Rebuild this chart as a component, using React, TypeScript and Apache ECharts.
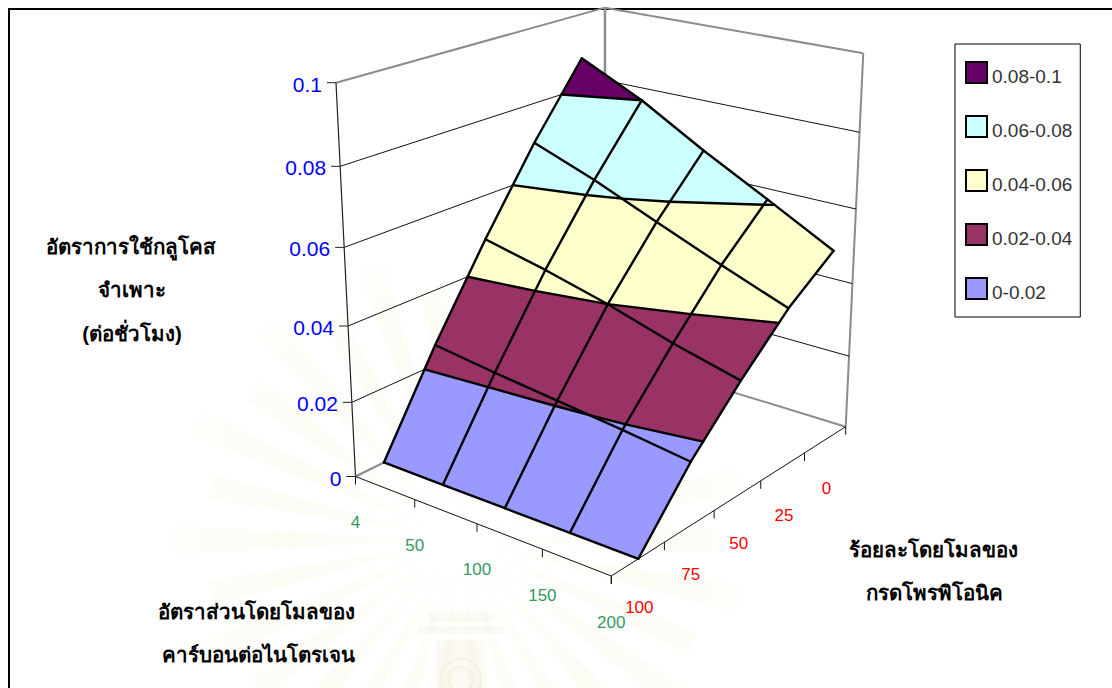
import React, { useEffect, useRef } from "react";
import * as echarts from "echarts";

// Specific glucose uptake rate by C/N mole ratio (columns) and propionic acid % (rows)
const carbonNitrogenRatio = ["4", "50", "100", "150", "200"];
const propionicPercent = ["100", "75", "50", "25", "0"];
const ratePropionic100 = [0, 0, 0, 0, 0];
const ratePropionic75 = [0.0253, 0.023, 0.021, 0.019, 0.0167];
const ratePropionic50 = [0.0482, 0.0444, 0.04, 0.0347, 0.0303];
const ratePropionic25 = [0.0694, 0.0632, 0.0561, 0.0491, 0.0425];
const ratePropionic0 = [0.0881, 0.08, 0.0701, 0.061, 0.0517];
const rateRows = [ratePropionic100, ratePropionic75, ratePropionic50, ratePropionic25, ratePropionic0];

const rateTicks = [0, 0.02, 0.04, 0.06, 0.08, 0.1];
const rateTickLabels = ["0", "0.02", "0.04", "0.06", "0.08", "0.1"];
const bandNames = ["0-0.02", "0.02-0.04", "0.04-0.06", "0.06-0.08", "0.08-0.1"];
const bandColors = ["#9999FF", "#993366", "#FFFFCC", "#CCFFFF", "#660066"];
const contourLevels = [0.02, 0.04, 0.06, 0.08];
const RATE_MAX = 0.1;

// Box corners on the page for the floor of the 3D plot, plus the vertical vanishing point
type Pt = number[];
const floorLeft: Pt = [355.5, 476.5];
const floorFront: Pt = [611.3, 576];
const floorRight: Pt = [845.7, 426.7];
const floorBack: Pt = [605, 353];
const verticalVanish: Pt = [605.5, 5527];
const wallTopLeftY = 82.7;

function squareToQuad(p00: Pt, p10: Pt, p11: Pt, p01: Pt) {
  const dx1 = p10[0] - p11[0], dx2 = p01[0] - p11[0], sx = p00[0] - p10[0] + p11[0] - p01[0];
  const dy1 = p10[1] - p11[1], dy2 = p01[1] - p11[1], sy = p00[1] - p10[1] + p11[1] - p01[1];
  const den = dx1 * dy2 - dx2 * dy1;
  const g = (sx * dy2 - dx2 * sy) / den;
  const h = (dx1 * sy - sx * dy1) / den;
  return {
    a: p10[0] - p00[0] + g * p10[0], b: p01[0] - p00[0] + h * p01[0], c: p00[0],
    d: p10[1] - p00[1] + g * p10[1], e: p01[1] - p00[1] + h * p01[1], f: p00[1],
    g, h,
  };
}
const floorMap = squareToQuad(floorLeft, floorFront, floorRight, floorBack);
const heightScale = (wallTopLeftY - floorLeft[1]) / (verticalVanish[1] - wallTopLeftY);

// u runs along the C/N axis, w along the propionic axis, both 0..1
function project(u: number, w: number, rate: number): Pt {
  const t = heightScale * (rate / RATE_MAX);
  const m = floorMap;
  const X = m.a * u + m.b * w + m.c + t * verticalVanish[0];
  const Y = m.d * u + m.e * w + m.f + t * verticalVanish[1];
  const W = m.g * u + m.h * w + 1 + t;
  return [X / W, Y / W];
}

const uOf = (col: number) => col / (carbonNitrogenRatio.length - 1);
// propionic categories sit in the middle of their tick intervals
const wOf = (row: number) => (row + 0.5) / propionicPercent.length;

type V3 = [number, number, number];
const corner = (row: number, col: number): V3 => [uOf(col), wOf(row), rateRows[row][col]];
const cellLoop = (row: number, col: number): V3[] => [
  corner(row, col), corner(row, col + 1), corner(row + 1, col + 1), corner(row + 1, col),
];
const atLevel = (a: V3, b: V3, level: number): V3 => {
  const t = (level - a[2]) / (b[2] - a[2]);
  return [a[0] + (b[0] - a[0]) * t, a[1] + (b[1] - a[1]) * t, level];
};
function clip(loop: V3[], level: number, keepAbove: boolean): V3[] {
  const out: V3[] = [];
  const inside = (p: V3) => (keepAbove ? p[2] >= level : p[2] <= level);
  loop.forEach((p, i) => {
    const q = loop[(i + 1) % loop.length];
    if (inside(p)) out.push(p);
    if (inside(p) !== inside(q)) out.push(atLevel(p, q, level));
  });
  return out;
}
function contourSegments(loop: V3[], level: number): V3[][] {
  const hits: V3[] = [];
  loop.forEach((p, i) => {
    const q = loop[(i + 1) % loop.length];
    if (p[2] >= level !== q[2] >= level) hits.push(atLevel(p, q, level));
  });
  const segs: V3[][] = [];
  for (let i = 0; i + 1 < hits.length; i += 2) segs.push([hits[i], hits[i + 1]]);
  return segs;
}

const cells: number[][] = [];
for (let r = 0; r < rateRows.length - 1; r++)
  for (let c = 0; c < carbonNitrogenRatio.length - 1; c++) cells.push([c, r]);

const AXIS_FONT = "'Liberation Sans', Arial, sans-serif";
const WALL = "#8c8c8c";

// Faint page emblem behind the plot: a sunburst around a stepped pedestal
const EMBLEM_X = 460;
const EMBLEM_Y = 540;
const rayCount = 30;
const rayFill = {
  type: "radial",
  x: EMBLEM_X,
  y: EMBLEM_Y,
  r: 300,
  global: true,
  colorStops: [
    { offset: 0, color: "rgba(247,243,215,0.08)" },
    { offset: 0.6, color: "rgba(245,241,208,0.24)" },
    { offset: 0.9, color: "rgba(245,241,208,0.12)" },
    { offset: 1, color: "rgba(245,241,208,0)" },
  ],
};
const emblemRays = Array.from({ length: rayCount }, (_, i) => {
  const angle = (i / rayCount) * Math.PI * 2;
  const reach = i % 2 ? 300 : 255;
  const near = 0.012;
  const far = 0.05;
  const at = (r: number, a: number) => [EMBLEM_X + r * Math.cos(a), EMBLEM_Y + r * Math.sin(a)];
  return {
    type: "polygon",
    silent: true,
    z: 0,
    shape: { points: [at(30, angle - near), at(reach, angle - far), at(reach, angle + far), at(30, angle + near)] },
    style: { fill: rayFill },
  };
});
const pedestalSteps = [
  [428, 612, 66, 10],
  [418, 626, 86, 8],
  [436, 640, 50, 48],
];
const emblemPedestal = [
  ...pedestalSteps.map(([x, y, width, height]) => ({
    type: "rect",
    silent: true,
    z: 0,
    shape: { x, y, width, height },
    style: { fill: "rgba(238,234,205,0.22)" },
  })),
  ...[12, 20].map((r) => ({
    type: "circle",
    silent: true,
    z: 0,
    shape: { cx: EMBLEM_X + 1, cy: 679, r },
    style: { fill: "none", stroke: "rgba(225,220,185,0.3)", lineWidth: 1.5 },
  })),
];

export default function App() {
  const ref = useRef<HTMLDivElement>(null);
  useEffect(() => {
    document.body.style.margin = "0";
    const chart = echarts.init(ref.current!, null, { renderer: "svg" });

    const screen = (api: any, p: Pt) => api.coord(p);
    const seg = (api: any, a: Pt, b: Pt, stroke: string, lineWidth: number) => ({
      type: "line",
      shape: (() => {
        const [x1, y1] = screen(api, a);
        const [x2, y2] = screen(api, b);
        return { x1, y1, x2, y2 };
      })(),
      style: { stroke, lineWidth },
      silent: true,
    });
    const label = (api: any, p: Pt, text: string, fill: string, size: number, align: string) => {
      const [x, y] = screen(api, p);
      return {
        type: "text",
        silent: true,
        style: { x, y, text, fill, font: `${size}px ${AXIS_FONT}`, textAlign: align, textVerticalAlign: "middle" },
      };
    };

    const boxSeries = {
      type: "custom",
      name: "box",
      coordinateSystem: "cartesian2d",
      clip: false,
      z: 1,
      data: [[0, 0]],
      renderItem: (_: any, api: any) => {
        const children: any[] = [];
        // wall and floor edges
        children.push(seg(api, project(0, 1, 0), project(0, 1, RATE_MAX), WALL, 2.5));
        children.push(seg(api, project(0, 0, RATE_MAX), project(0, 1, RATE_MAX), WALL, 2));
        children.push(seg(api, project(0, 1, RATE_MAX), project(1, 1, RATE_MAX), WALL, 2));
        children.push(seg(api, project(1, 1, 0), project(1, 1, RATE_MAX), WALL, 2));
        children.push(seg(api, project(0, 0, 0), project(0, 1, 0), WALL, 2));
        children.push(seg(api, project(0, 1, 0), project(1, 1, 0), WALL, 2));
        // gridlines across both walls
        rateTicks.slice(1, -1).forEach((t) => {
          children.push(seg(api, project(0, 0, t), project(0, 1, t), "#111", 1));
          children.push(seg(api, project(0, 1, t), project(1, 1, t), "#111", 1));
        });
        // rate axis, ticks and labels
        children.push(seg(api, project(0, 0, 0), project(0, 0, RATE_MAX), "#222", 1.2));
        rateTicks.forEach((t, i) => {
          const p = project(0, 0, t);
          children.push(seg(api, [p[0] - 9, p[1]], p, "#222", 1));
          children.push(label(api, [p[0] - 14, p[1] + 1.5], rateTickLabels[i], "#0000FF", 21, "right"));
        });
        // front floor edges
        children.push(seg(api, project(0, 0, 0), project(1, 0, 0), "#111", 1));
        children.push(seg(api, project(1, 0, 0), project(1, 1, 0), "#111", 1));
        // C/N axis: labels on ticks
        carbonNitrogenRatio.forEach((text, i) => {
          const p = project(uOf(i), 0, 0);
          children.push(seg(api, p, [p[0], p[1] + 8], "#111", 1));
          children.push(label(api, [p[0], p[1] + 46], text, "#339966", 17, "center"));
        });
        // propionic axis: labels between ticks
        for (let i = 0; i <= propionicPercent.length; i++) {
          const p = project(1, i / propionicPercent.length, 0);
          children.push(seg(api, p, [p[0], p[1] + 8], "#111", 1));
        }
        propionicPercent.forEach((text, i) => {
          const p = project(1, wOf(i), 0);
          children.push(label(api, [p[0] + 1, p[1] + 48.5], text, "#FF0000", 17, "center"));
        });
        return { type: "group", children };
      },
    };

    const bandSeries = bandNames.map((name, b) => ({
      type: "custom",
      name,
      coordinateSystem: "cartesian2d",
      clip: false,
      z: 2,
      itemStyle: { color: bandColors[b] },
      data: cells,
      renderItem: (_: any, api: any) => {
        const col = api.value(0);
        const row = api.value(1);
        const lo = rateTicks[b];
        const hi = rateTicks[b + 1];
        let loop = cellLoop(row, col);
        loop = clip(loop, lo, true);
        if (loop.length >= 3) loop = clip(loop, hi, false);
        if (loop.length < 3) return null;
        return {
          type: "polygon",
          silent: true,
          shape: { points: loop.map((v) => screen(api, project(v[0], v[1], v[2]))) },
          style: { fill: bandColors[b], stroke: bandColors[b], lineWidth: 0.5 },
        };
      },
    }));

    const meshSeries = {
      type: "custom",
      name: "mesh",
      coordinateSystem: "cartesian2d",
      clip: false,
      z: 3,
      data: [[0, 0]],
      renderItem: (_: any, api: any) => {
        const children: any[] = [];
        const strokePath = (points: Pt[]) => ({
          type: "polyline",
          silent: true,
          shape: { points: points.map((p) => screen(api, p)) },
          style: { stroke: "#000", lineWidth: 2.4, fill: "none", lineJoin: "round", lineCap: "round" },
        });
        rateRows.forEach((values, r) => {
          children.push(strokePath(values.map((v, c) => project(uOf(c), wOf(r), v))));
        });
        carbonNitrogenRatio.forEach((_c, c) => {
          children.push(strokePath(rateRows.map((values, r) => project(uOf(c), wOf(r), values[c]))));
        });
        cells.forEach(([c, r]) => {
          contourLevels.forEach((level) => {
            contourSegments(cellLoop(r, c), level).forEach((s) => {
              children.push(strokePath(s.map((v) => project(v[0], v[1], v[2]))));
            });
          });
        });
        return { type: "group", children };
      },
    };

    const title = (text: string, x: number, y: number) => ({
      type: "text",
      x,
      y,
      z: 10,
      silent: true,
      style: {
        text,
        fill: "#000",
        font: `bold 20.5px ${AXIS_FONT}`,
        textAlign: "center",
        textVerticalAlign: "middle",
      },
    });

    chart.setOption({
      animation: false,
      grid: { left: 0, top: 0, right: 0, bottom: 0, containLabel: false },
      xAxis: { type: "value", min: 0, max: 1112, show: false },
      yAxis: { type: "value", min: 0, max: 688, inverse: true, show: false },
      tooltip: { show: false },
      legend: {
        show: true,
        orient: "vertical",
        left: 955,
        top: 44,
        padding: [15, 8, 15, 10],
        itemWidth: 21,
        itemHeight: 21,
        itemGap: 27,
        itemStyle: { borderColor: "#000", borderWidth: 2 },
        icon: "rect",
        selectedMode: false,
        borderColor: "#000",
        borderWidth: 1,
        backgroundColor: "#fff",
        // a blank first line drops each entry slightly below the centre of its swatch
        formatter: (name: string) => `\n${name}`,
        textStyle: {
          color: "#333",
          fontFamily: AXIS_FONT,
          fontSize: 19,
          lineHeight: 8,
        },
        data: [...bandNames].reverse(),
      },
      graphic: [
        ...emblemRays,
        ...emblemPedestal,
        { type: "line", silent: true, shape: { x1: 9, y1: 8, x2: 9, y2: 688 }, style: { stroke: "#000", lineWidth: 2 } },
        { type: "line", silent: true, shape: { x1: 9, y1: 9, x2: 1112, y2: 9 }, style: { stroke: "#000", lineWidth: 2 } },
        title("อัตราการใช้กลูโคส", 131, 246),
        title("จำเพาะ", 132, 289),
        title("(ต่อชั่วโมง)", 132, 333),
        title("อัตราส่วนโดยโมลของ", 256, 611),
        title("คาร์บอนต่อไนโตรเจน", 258, 654),
        title("ร้อยละโดยโมลของ", 933, 549),
        title("กรดโพรพิโอนิค", 934, 592),
      ],
      series: [boxSeries, ...bandSeries, meshSeries],
    });
    return () => chart.dispose();
  }, []);
  return <div ref={ref} style={{ width: 1112, height: 688 }} />;
}
